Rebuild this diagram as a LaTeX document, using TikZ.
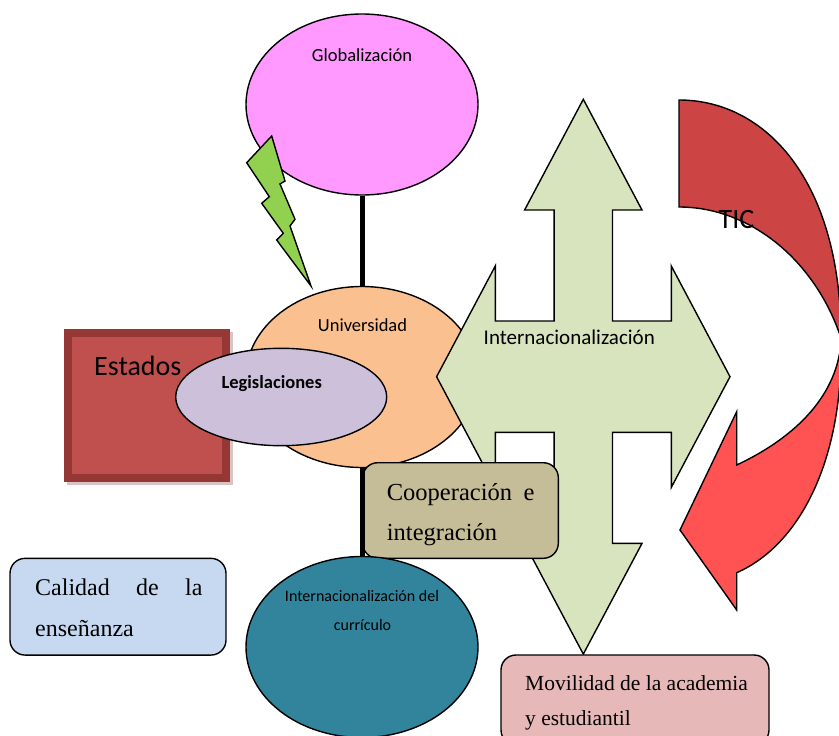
\documentclass[tikz,border=0pt]{standalone}
\usepackage{fontspec}
\setmainfont{Liberation Serif}
\newfontfamily\calibri{Carlito}
\usetikzlibrary{shapes.geometric}

\definecolor{globfill}{HTML}{FF99FF}
\definecolor{boltfill}{HTML}{92D050}
\definecolor{univfill}{HTML}{FAC090}
\definecolor{legisfill}{HTML}{CCC0DA}
\definecolor{estfill}{HTML}{C0504D}
\definecolor{estframe}{HTML}{953735}
\definecolor{estshadow}{HTML}{D9C3C3}
\definecolor{quadfill}{HTML}{D7E4BD}
\definecolor{coopfill}{HTML}{C4BD97}
\definecolor{calfill}{HTML}{C6D9F1}
\definecolor{currfill}{HTML}{31849B}
\definecolor{movfill}{HTML}{E6B9B8}
\definecolor{ticback}{HTML}{CC4444}
\definecolor{ticfront}{HTML}{FF5353}

\tikzset{
  outline/.style={draw=black, line width=1.4pt},
  blob/.style={outline, ellipse, inner sep=0pt, minimum width=232pt, minimum height=181pt},
  roundbox/.style={outline, rectangle, rounded corners=15pt, inner sep=0pt},
  stem/.style={line width=5pt},
  sanstext/.style={inner sep=0pt, anchor=base, font=\calibri\fontsize{18.5}{22}\selectfont},
  bigtext/.style={inner sep=0pt, anchor=base, font=\calibri\fontsize{28}{32}\selectfont},
  boxtext/.style={inner sep=0pt, anchor=base west, font=\fontsize{24}{28}\selectfont},
}

\begin{document}
\begin{tikzpicture}[x=1pt,y=-1pt]
  \useasboundingbox (0,0) rectangle (839,736);

  % Estados, with its shadow
  \node (estshade) [fill=estshadow, inner sep=0pt, minimum width=165.7pt, minimum height=153pt] at (150.2,408.8) {};
  \node (estados) [draw=estframe, line width=8pt, fill=estfill, inner sep=0pt, minimum width=157.7pt, minimum height=145pt] at (147.2,405.8) {};

  % Globalizacion and the bolt
  \node (glob) [blob, fill=globfill] at (362,104.5) {};
  \draw [outline, fill=boltfill] (271.7,136) -- (285,181) -- (280,184) -- (295,219.3) -- (290,226) -- (311,286)
    -- (276.7,240) -- (283.3,233.3) -- (261.7,203.3) -- (269.3,196.7) -- (246.7,162.7) -- cycle;

  % Universidad and Legislaciones
  \node (univ) [blob, fill=univfill] at (362,377) {};
  \node (legis) [outline, ellipse, fill=legisfill, inner sep=0pt, minimum width=211pt, minimum height=97.4pt] at (281.2,397) {};

  % Internacionalizacion: the four-way arrow
  \draw [outline, fill=quadfill, shift={(583.3,376.7)}] (0,-277.4) -- (58.7,-166.7) -- (29.2,-166.7) -- (29.2,-55.7)
    -- (88,-55.7) -- (88,-110.7) -- (146.7,0) -- (88,110.7) -- (88,55.7) -- (29.2,55.7)
    -- (29.2,166.7) -- (58.7,166.7) -- (0,277.4) -- (-58.7,166.7) -- (-29.2,166.7) -- (-29.2,55.7)
    -- (-88,55.7) -- (-88,110.7) -- (-146.7,0) -- (-88,-110.7) -- (-88,-55.7) -- (-29.2,-55.7)
    -- (-29.2,-166.7) -- (-58.7,-166.7) -- cycle;

  % boxes and the lower ellipse
  \node (coop) [roundbox, fill=coopfill, minimum width=195.6pt, minimum height=95.6pt] at (460.5,510.5) {};
  \node (calidad) [roundbox, fill=calfill, minimum width=216pt, minimum height=96.7pt] at (118,606.7) {};
  \node (curr) [blob, fill=currfill] at (362,647) {};
  \node (movil) [roundbox, fill=movfill, minimum width=268pt, minimum height=90pt] at (635,700) {};

  % TIC: curved arrow, back and front
  \draw [outline, fill=ticback] (679,100) .. controls (765,100) and (841,180) .. (841,338)
    .. controls (815,260) and (750,207) .. (679,207) -- cycle;
  \draw [outline, fill=ticfront] (841,343) .. controls (836,400) and (790,440) .. (736.7,465) -- (736.7,411.7)
    -- (680,530) -- (736.7,610) -- (736.7,572.7) .. controls (800,545) and (843,460) .. (841,343) -- cycle;

  % stems
  \draw [stem] (glob.south) -- (univ.north);
  \draw [stem] (univ.south) -- (curr.north);

  % labels
  \node (globtxt) [sanstext] at (362,61) {Globalización};
  \node (univtxt) [sanstext] at (362.5,331) {Universidad};
  \node (legistxt) [sanstext, font=\calibri\bfseries\fontsize{18.5}{22}\selectfont] at (271.7,388.3) {Legislaciones};
  \node (esttxt) [bigtext] at (137.8,375) {Estados};
  \node (tictxt) [bigtext] at (736.5,228.3) {TIC};
  \node (inttxt) [sanstext, font=\calibri\fontsize{21}{24}\selectfont] at (569.3,344.3) {Internacionalización};
  \node (currtxt1) [sanstext, font=\calibri\fontsize{16}{20}\selectfont] at (362,601.7) {Internacionalización del};
  \node (currtxt2) [sanstext, font=\calibri\fontsize{16}{20}\selectfont] at (362.5,630) {currículo};

  \node (cooptxt1) [boxtext, font=\fontsize{24.5}{28}\selectfont] at (386.7,500) {\makebox[147.6pt][s]{Cooperación e}};
  \node (cooptxt2) [boxtext, font=\fontsize{24.5}{28}\selectfont] at (386.7,540) {integración};
  \node (caltxt1) [boxtext] at (35,595) {\makebox[167.3pt][s]{Calidad de la}};
  \node (caltxt2) [boxtext] at (35,636.7) {enseñanza};
  \node (movtxt1) [boxtext, font=\fontsize{21.5}{26}\selectfont] at (525,690) {Movilidad de la academia};
  \node (movtxt2) [boxtext, font=\fontsize{21.5}{26}\selectfont] at (525,725) {y estudiantil};
\end{tikzpicture}
\end{document}
